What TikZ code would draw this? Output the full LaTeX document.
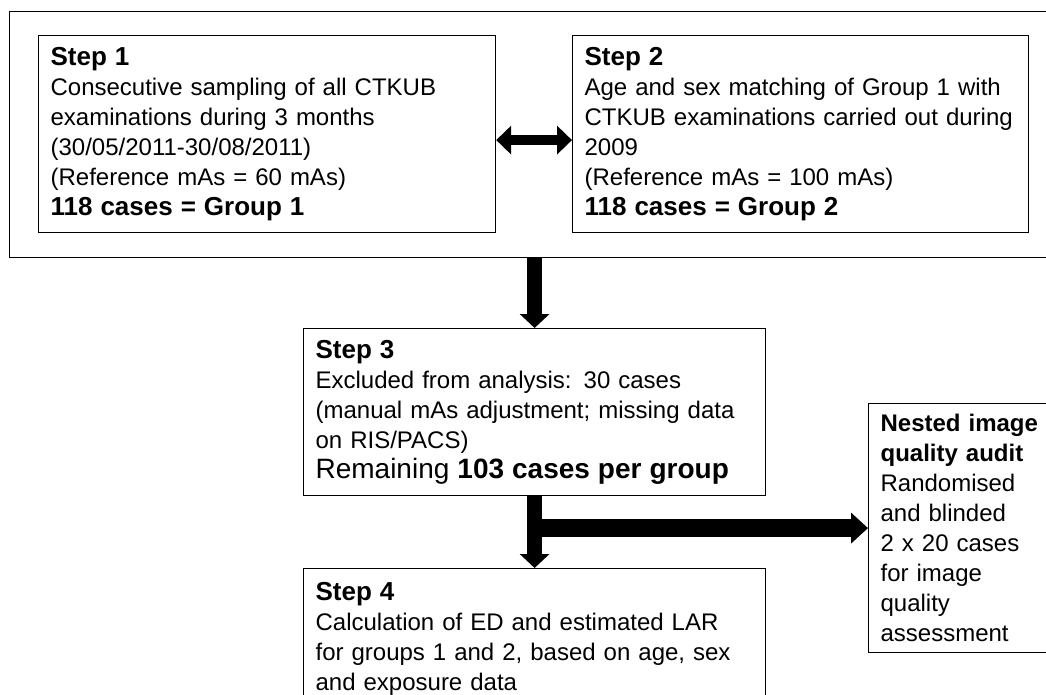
\documentclass[tikz,border=0pt]{standalone}
\usepackage{fontspec}
\setmainfont{Liberation Sans}
\usetikzlibrary{arrows.meta}
\newcommand{\stephead}[1]{{\fontsize{26}{30}\selectfont\textbf{#1}}}
\tikzset{
  stepbox/.style={draw, line width=1.2pt, anchor=north west, align=left,
    inner xsep=12pt, inner ysep=10pt, font=\fontsize{24}{30}\selectfont},
  downarrow/.style={line width=15pt, -{Triangle[width=29pt,length=14pt]}},
  sidearrow/.style={line width=18pt, -{Triangle[width=30pt,length=17pt]}},
  pairarrow/.style={line width=10pt,
    {Triangle[width=28pt,length=15pt]}-{Triangle[width=28pt,length=15pt]}},
}
\begin{document}
\begin{tikzpicture}[x=1pt, y=-1pt]
    % 1. Page area
    \useasboundingbox (0,0) rectangle (1046,695);
    \clip (0,0) rectangle (1046,695);

    % 2. Frame round steps 1 and 2
    \node[draw, line width=1.2pt, anchor=north west, inner sep=0pt,
      minimum width=1060pt, minimum height=246pt] (frame) at (9,11) {};

    % 3. Steps 1 and 2
    \node[stepbox, text width=433pt, minimum height=197pt] (step1) at (38,35)
      {\stephead{Step 1}\\
       Consecutive sampling of all CTKUB\\
       examinations during 3 months\\
       (30/05/2011-30/08/2011)\\
       (Reference mAs = 60 mAs)\\
       \stephead{118 cases = Group 1}};
    \node[stepbox, text width=432pt, minimum height=197pt] (step2) at (572,35)
      {\stephead{Step 2}\\
       Age and sex matching of Group 1 with\\
       CTKUB examinations carried out during\\
       2009\\
       (Reference mAs = 100 mAs)\\
       \stephead{118 cases = Group 2}};
    \draw[pairarrow] ([yshift=-6pt]step1.east) -- ([yshift=-6pt]step2.west);

    % 4. Steps 3 and 4
    \node[stepbox, text width=438pt, minimum height=167pt] (step3) at (303,328)
      {\stephead{Step 3}\\
       Excluded from analysis: 30 cases\\
       (manual mAs adjustment; missing data\\
       on RIS/PACS)\\
       {\fontsize{28}{30}\selectfont Remaining \textbf{103 cases per group}}};
    \node[stepbox, text width=438pt, inner ysep=14pt] (step4) at (303,568)
      {\stephead{Step 4}\\
       Calculation of ED and estimated LAR\\
       for groups 1 and 2, based on age, sex\\
       and exposure data};

    % 5. Nested audit
    \node[stepbox, text width=190pt, minimum height=249pt] (nested) at (868,403)
      {\textbf{Nested image}\\
       \textbf{quality audit}\\
       Randomised\\
       and blinded\\
       2 x 20 cases\\
       for image\\
       quality\\
       assessment};

    % 6. Block arrows
    \draw[downarrow] (frame.south -| step3.north) -- (step3.north);
    \draw[downarrow] (step3.south) -- (step4.north);
    \draw[sidearrow] (step3.south |- nested.west) -- (nested.west);
\end{tikzpicture}
\end{document}
